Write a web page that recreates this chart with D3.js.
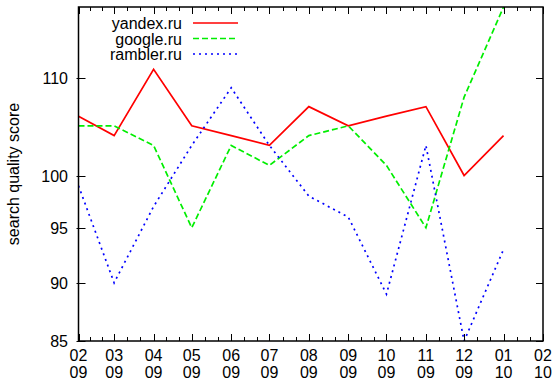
<!DOCTYPE html>
<html>
<head>
<meta charset="utf-8">
<style>
  body { margin: 0; background: #fff; }
  svg { display: block; font-family: "Liberation Sans", Arial, sans-serif; }
</style>
</head>
<body>
<svg id="chart" width="554" height="381"></svg>
<script src="https://cdn.jsdelivr.net/npm/d3@7"></script>
<script>

// monthly readings, one per month starting Feb 2009
var months = ["2009-02-01", "2009-03-01", "2009-04-01", "2009-05-01", "2009-06-01", "2009-07-01",
              "2009-08-01", "2009-09-01", "2009-10-01", "2009-11-01", "2009-12-01", "2010-01-01"];
var yandex  = [106, 104, 111, 105, 104, 103, 107, 105, 106, 107, 100, 104];
var google  = [105, 105, 103,  95, 103, 101, 104, 105, 101,  95, 108, 118];
var rambler = [ 99,  90,  97, 103, 109, 103,  98,  96,  89, 103,  85,  93];

var seriesNames = ["yandex.ru", "google.ru", "rambler.ru"];
var yTicks = [85, 90, 95, 100, 110];
var xTickDates = ["2009-02-01", "2009-03-01", "2009-04-01", "2009-05-01", "2009-06-01", "2009-07-01",
                  "2009-08-01", "2009-09-01", "2009-10-01", "2009-11-01", "2009-12-01", "2010-01-01", "2010-02-01"];

var parse = d3.timeParse("%Y-%m-%d");
var dates = months.map(parse);
var tickDates = xTickDates.map(parse);

var svg = d3.select("#chart");
var pLeft = 78.5, pRight = 543, pTop = 7, pBottom = 341;
var fs = 16;

var x = d3.scaleTime()
    .domain([parse("2009-02-01"), parse("2010-02-01")])
    .range([pLeft, pRight]);

var y = d3.scaleLog()
    .domain([85, 118])
    .range([pBottom, pTop]);

var series = [
  {name: seriesNames[0], values: yandex,  color: "#ff0000", dash: null},
  {name: seriesNames[1], values: google,  color: "#00ee00", dash: "6,3"},
  {name: seriesNames[2], values: rambler, color: "#0000ff", dash: "2,4"}
];

svg.append("clipPath").attr("id", "plot-clip")
  .append("rect")
    .attr("x", pLeft).attr("y", pTop)
    .attr("width", pRight - pLeft).attr("height", pBottom - pTop);

var line = d3.line()
    .x(function(d, i) { return x(dates[i]); })
    .y(function(d) { return y(d); });

svg.append("g").attr("clip-path", "url(#plot-clip)")
  .selectAll("path")
  .data(series)
  .enter().append("path")
    .attr("d", function(s) { return line(s.values); })
    .attr("fill", "none")
    .attr("stroke", function(s) { return s.color; })
    .attr("stroke-width", 1.7)
    .attr("stroke-dasharray", function(s) { return s.dash; });

// minor x ticks: thirds of each month
var minor = [];
for (var i = 0; i < tickDates.length - 1; i++) {
  var a = x(tickDates[i]), b = x(tickDates[i + 1]);
  minor.push(a + (b - a) / 3, a + 2 * (b - a) / 3);
}

var axes = svg.append("g").attr("stroke", "#000").attr("stroke-width", 1);

// major x ticks, bottom and top (mirrored)
tickDates.forEach(function(d) {
  var px = Math.round(x(d)) + 0.5;
  axes.append("line").attr("x1", px).attr("x2", px).attr("y1", pBottom).attr("y2", pBottom - 7);
  axes.append("line").attr("x1", px).attr("x2", px).attr("y1", pTop).attr("y2", pTop + 7);
});
minor.forEach(function(m) {
  var px = Math.round(m) + 0.5;
  axes.append("line").attr("x1", px).attr("x2", px).attr("y1", pBottom).attr("y2", pBottom - 4);
  axes.append("line").attr("x1", px).attr("x2", px).attr("y1", pTop).attr("y2", pTop + 4);
});

// y ticks left and right (mirrored)
yTicks.forEach(function(v) {
  var py = Math.round(y(v)) + 0.5;
  axes.append("line").attr("x1", pLeft - 2).attr("x2", pLeft + 7).attr("y1", py).attr("y2", py);
  axes.append("line").attr("x1", pRight).attr("x2", pRight - 7).attr("y1", py).attr("y2", py);
});

// frame
svg.append("rect")
    .attr("x", pLeft).attr("y", pTop)
    .attr("width", pRight - pLeft).attr("height", pBottom - pTop)
    .attr("fill", "none").attr("stroke", "#000").attr("stroke-width", 1.5);

// y tick labels
svg.append("g").selectAll("text")
  .data(yTicks)
  .enter().append("text")
    .attr("x", 68)
    .attr("y", function(v) { return y(v) + 6; })
    .attr("text-anchor", "end")
    .attr("font-size", fs)
    .text(function(v) { return v; });

// x tick labels, month over year
var fmtM = d3.timeFormat("%m"), fmtY = d3.timeFormat("%y");
var xl = svg.append("g").attr("font-size", fs).attr("text-anchor", "middle");
tickDates.forEach(function(d) {
  xl.append("text").attr("x", x(d)).attr("y", 361).text(fmtM(d));
  xl.append("text").attr("x", x(d)).attr("y", 378).text(fmtY(d));
});

// y axis title
svg.append("text")
    .attr("transform", "translate(19," + ((pTop + pBottom) / 2) + ") rotate(-90)")
    .attr("text-anchor", "middle")
    .attr("font-size", fs)
    .text("search quality score");

// legend
var lg = svg.append("g");
series.forEach(function(s, i) {
  var ly = 23 + i * 15.5;
  lg.append("text")
      .attr("x", 182).attr("y", ly + 6)
      .attr("text-anchor", "end")
      .attr("font-size", fs)
      .text(s.name);
  lg.append("line")
      .attr("x1", 193).attr("x2", 238)
      .attr("y1", ly).attr("y2", ly)
      .attr("stroke", s.color)
      .attr("stroke-width", 1.7)
      .attr("stroke-dasharray", s.dash);
});

</script>
</body>
</html>
